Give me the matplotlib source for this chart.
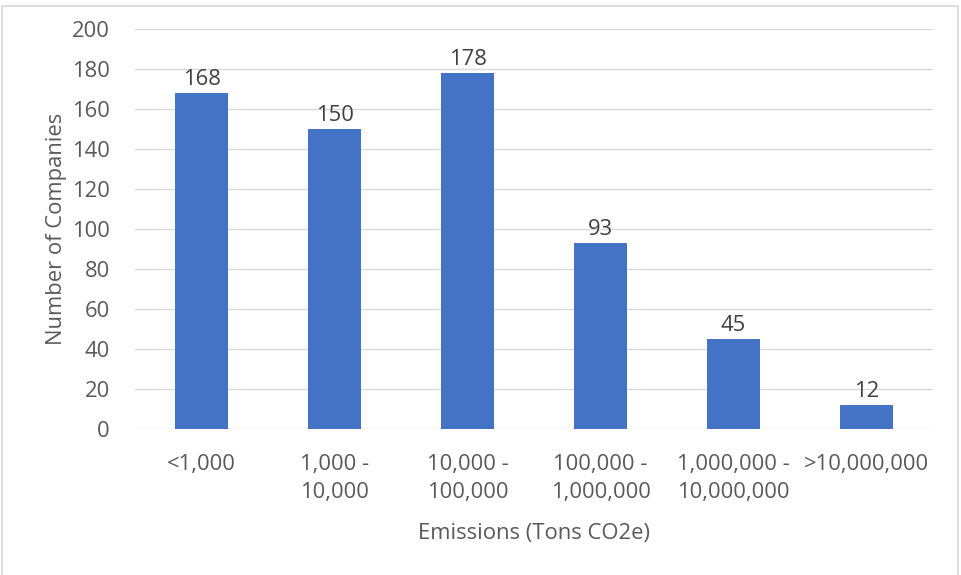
import matplotlib.pyplot as plt
from matplotlib.patches import Rectangle

categories = ["<1,000", "1,000 -\n10,000", "10,000 -\n100,000", "100,000 -\n1,000,000",
              "1,000,000 -\n10,000,000", ">10,000,000"]
counts = [168, 150, 178, 93, 45, 12]

plt.rcParams['font.family'] = ['Open Sans', 'DejaVu Sans']
text_col = '#595959'
fs = 15.8

fig = plt.figure(figsize=(9.62, 5.75), dpi=100)
ax = fig.add_axes([0.1403, 0.2539, 0.8296, 0.6957])

x = range(len(categories))
bars = ax.bar(x, counts, width=0.4, color='#4472C4', zorder=3)
for b, v in zip(bars, counts):
    ax.text(b.get_x() + b.get_width() / 2, v + 1.5, str(v), ha='center', va='bottom',
            fontsize=fs, color='#404040')

ax.set_xlim(-0.5, len(categories) - 0.5)
ax.set_ylim(0, 200)
ax.set_yticks(range(0, 201, 20))
ax.set_xticks(list(x))
ax.set_xticklabels(categories, fontsize=fs, color=text_col, linespacing=1.45)
ax.tick_params(axis='y', labelsize=fs, labelcolor=text_col, length=0, pad=18)
ax.tick_params(axis='x', length=0, pad=18)
ax.grid(axis='y', color='#d9d9d9', linewidth=1, zorder=0)
for s in ax.spines.values():
    s.set_visible(False)

ax.set_ylabel("Number of Companies", fontsize=fs, color=text_col, labelpad=4)
ax.set_xlabel("Emissions (Tons CO2e)", fontsize=fs, color=text_col, labelpad=14)

# light chart frame
fig.patches.append(Rectangle((0.002, -0.01), 0.994, 1.0, transform=fig.transFigure,
                             fill=False, edgecolor='#d9d9d9', linewidth=1.2))

fig.savefig('out.png', dpi=100)
